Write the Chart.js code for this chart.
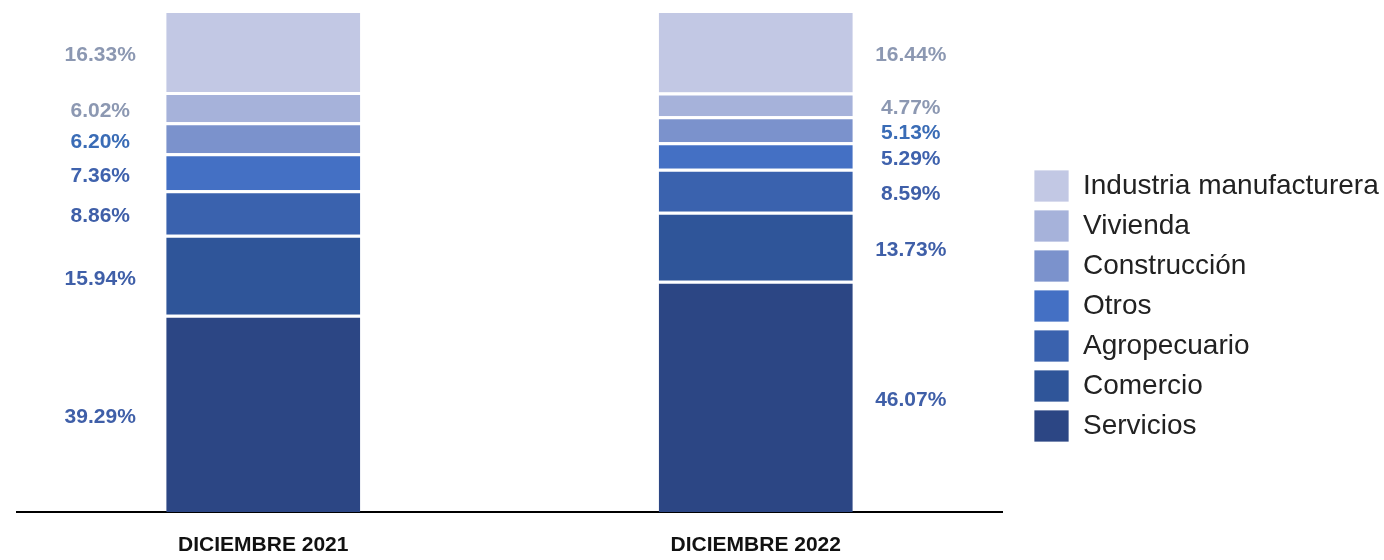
<!DOCTYPE html>
<html><head><meta charset="utf-8">
<script src="https://cdn.jsdelivr.net/npm/chart.js@4"></script>
<style>html,body{margin:0;padding:0;background:#fff}#wrap{width:1384px;height:560px;position:relative}</style>
</head><body><div id="wrap"><canvas id="c"></canvas></div>
<script>
const categories = ['DICIEMBRE 2021', 'DICIEMBRE 2022'];
const seriesNames = ['Servicios', 'Comercio', 'Agropecuario', 'Otros', 'Construcción', 'Vivienda', 'Industria manufacturera'];
const servicios = [39.29, 46.07];
const comercio = [15.94, 13.73];
const agropecuario = [8.86, 8.59];
const otros = [7.36, 5.29];
const construccion = [6.20, 5.13];
const vivienda = [6.02, 4.77];
const industria = [16.33, 16.44];
const seriesValues = [servicios, comercio, agropecuario, otros, construccion, vivienda, industria];
const seriesColors = ['#2c4684', '#2f5599', '#3a62ae', '#4470c4', '#7b92cc', '#a6b2da', '#c2c8e4'];
const labelColors = ['#3f5fa8', '#3f5fa8', '#3f5fa8', '#3f62ad', '#3a6cb6', '#8c98b2', '#8c98b2'];
const FONT = '"Liberation Sans", Arial, sans-serif';

const valueLabels = {
  id: 'valueLabels',
  afterDatasetsDraw(chart) {
    const ctx = chart.ctx;
    ctx.save();
    ctx.font = 'bold 21px ' + FONT;
    ctx.textBaseline = 'middle';
    ctx.textAlign = 'center';
    chart.data.datasets.forEach((ds, di) => {
      const meta = chart.getDatasetMeta(di);
      meta.data.forEach((bar, i) => {
        const v = ds.data[i];
        const y = (bar.y + bar.base) / 2 + 4;
        const half = bar.width / 2;
        const x = i === 0 ? bar.x - half - 66 : bar.x + half + 58;
        ctx.fillStyle = labelColors[di];
        ctx.fillText(v.toFixed(2) + '%', x, y);
      });
    });
    ctx.restore();
  }
};

new Chart(document.getElementById('c'), {
  type: 'bar',
  data: {
    labels: categories,
    datasets: seriesNames.map((name, i) => ({
      label: name,
      data: seriesValues[i],
      backgroundColor: seriesColors[i],
      borderColor: '#ffffff',
      borderWidth: {top: 3, bottom: 0, left: 0, right: 0},
      borderSkipped: false,
      barPercentage: 0.394,
      categoryPercentage: 1.0,
      yAxisID: 'y'
    }))
  },
  options: {
    responsive: true,
    maintainAspectRatio: false,
    animation: false,
    layout: {padding: {left: 17, top: 10, right: 0, bottom: 0}},
    scales: {
      x: {
        stacked: true,
        grid: {display: false, drawTicks: false},
        border: {display: true, color: '#000', width: 2},
        ticks: {color: '#111', font: {family: FONT, size: 21, weight: 'bold'}, padding: 21},
        afterFit(s) { s.height = 48; }
      },
      y: {stacked: true, display: false, min: 0, max: 100},
      y2: {
        position: 'right', display: true,
        grid: {display: false, drawTicks: false},
        border: {display: false},
        ticks: {display: false},
        afterFit(s) { s.width = 24; }
      }
    },
    plugins: {
      legend: {
        position: 'right',
        reverse: true,
        align: 'center',
        maxWidth: 358,
        title: {display: true, text: ' ', font: {size: 12, lineHeight: 1}, padding: {top: 30, bottom: 0}},
        labels: {boxWidth: 35, boxHeight: 32, padding: 8, color: '#222', font: {family: FONT, size: 28}}
      },
      tooltip: {enabled: false}
    }
  },
  plugins: [valueLabels]
});
</script>
</body></html>
